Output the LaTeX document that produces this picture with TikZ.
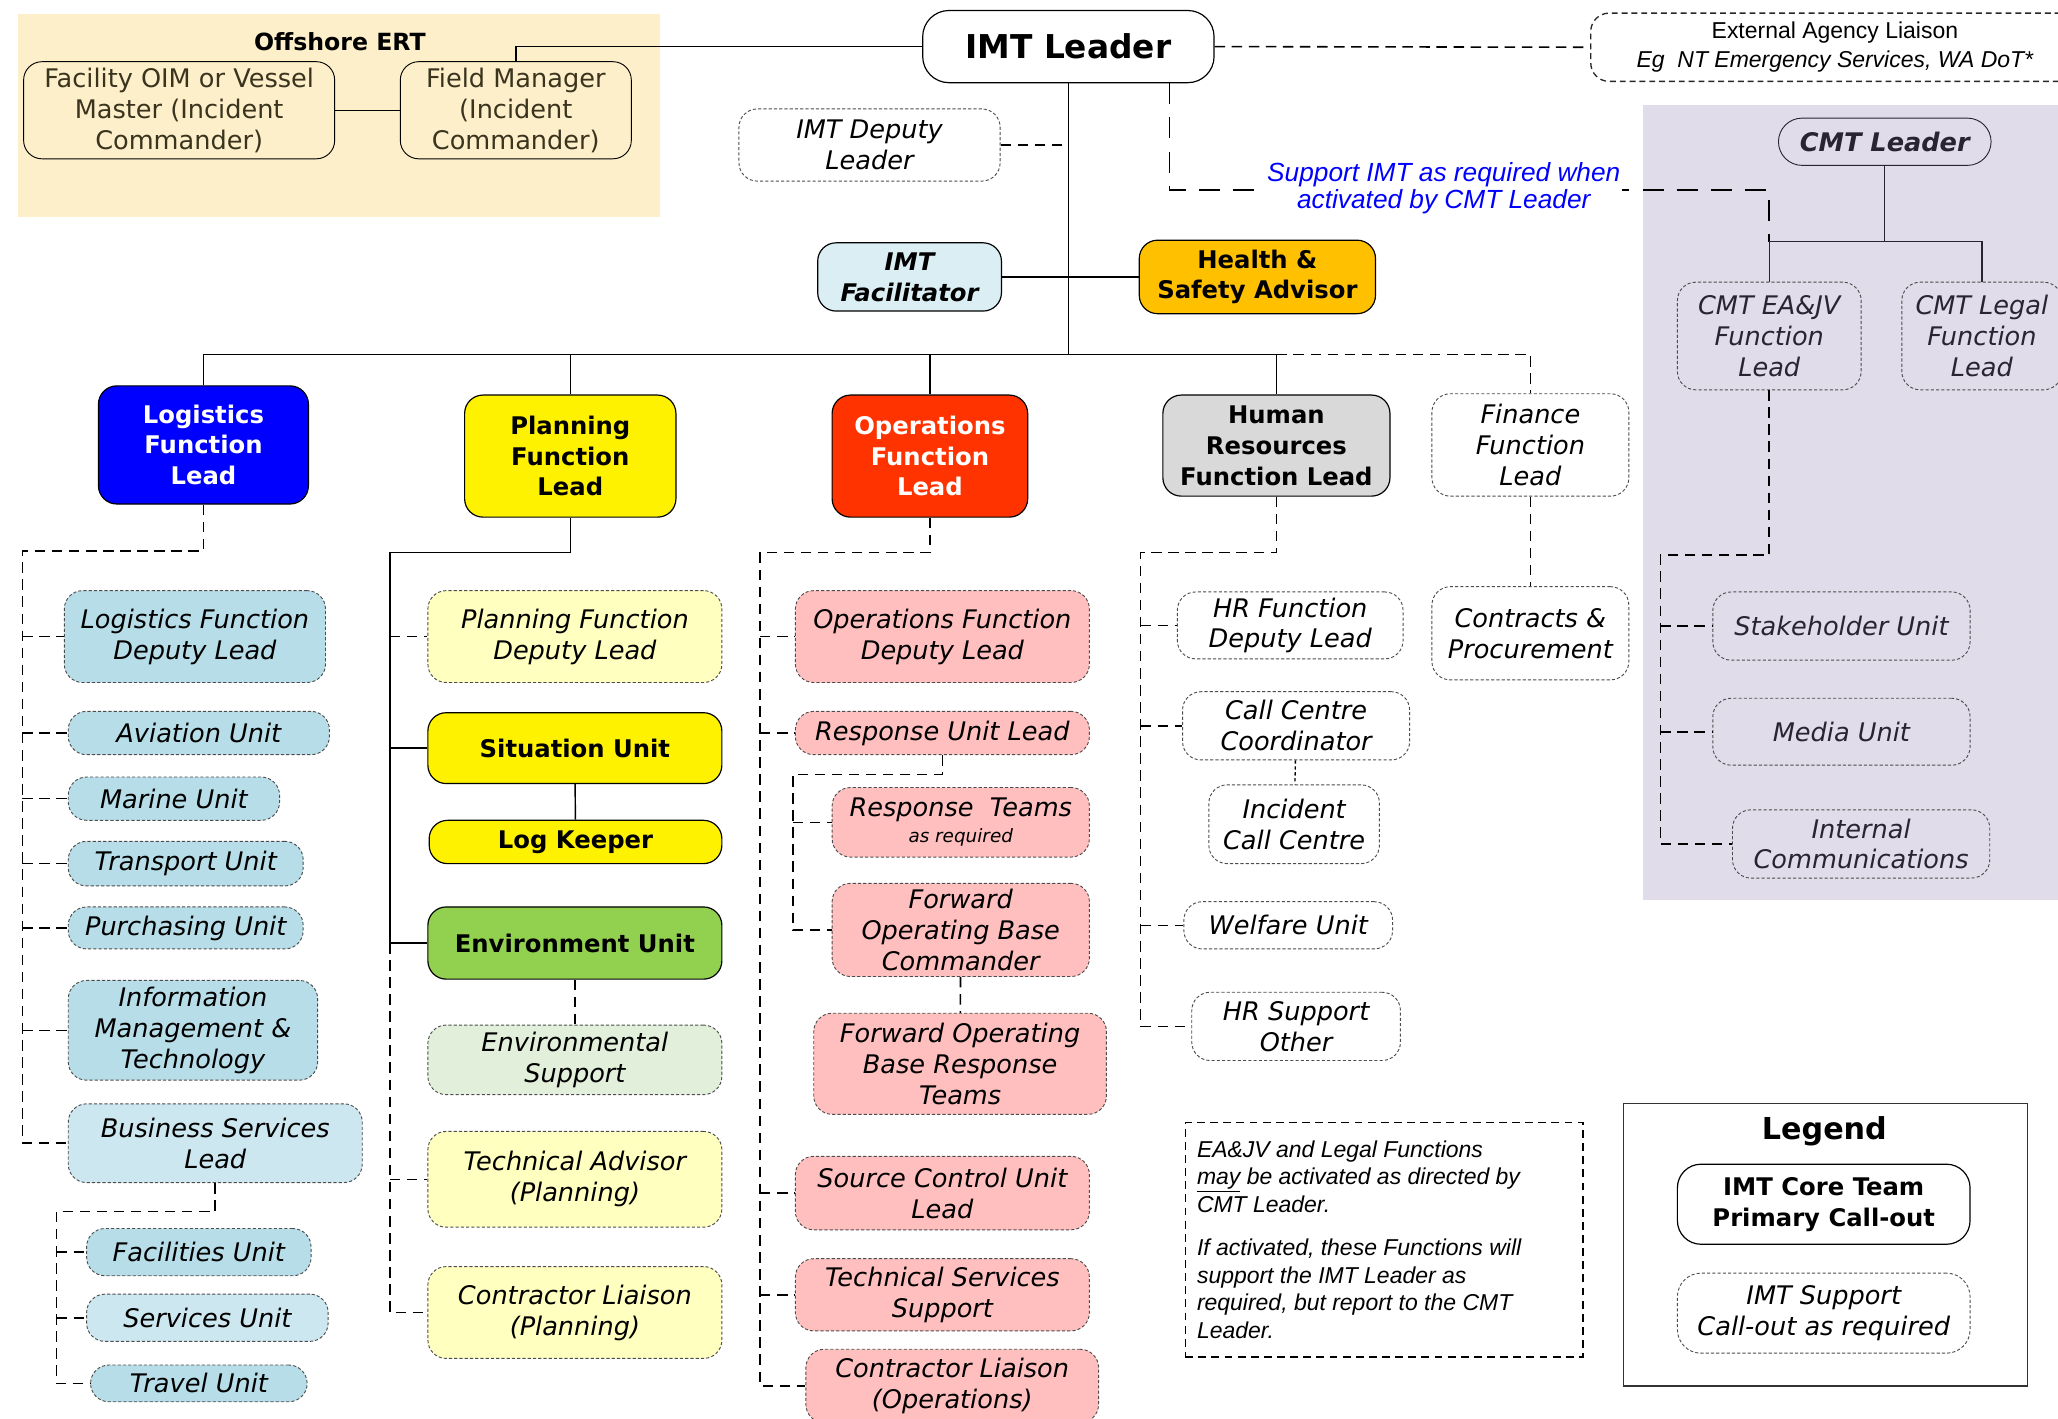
\documentclass[tikz,border=0pt]{standalone}
\usepackage{fontspec}
\setmainfont{DejaVu Sans}
\newfontfamily\arialfont{Liberation Sans}

\definecolor{ertbg}{RGB}{253,239,202}
\definecolor{ertink}{RGB}{58,52,30}
\definecolor{cmtbg}{RGB}{224,220,233}
\definecolor{cmtink}{RGB}{40,36,50}
\definecolor{facblue}{RGB}{218,238,243}
\definecolor{hsorange}{RGB}{255,192,0}
\definecolor{logblue}{RGB}{0,0,255}
\definecolor{opsred}{RGB}{255,51,0}
\definecolor{hrgray}{RGB}{217,217,217}
\definecolor{unitblue}{RGB}{183,222,232}
\definecolor{bizblue}{RGB}{204,231,239}
\definecolor{planpale}{RGB}{255,255,192}
\definecolor{envgreen}{RGB}{146,208,80}
\definecolor{envpale}{RGB}{226,239,218}
\definecolor{opspink}{RGB}{255,191,191}

\begin{document}
\begin{tikzpicture}[x=1pt, y=-1pt,
  core/.style = {draw, line width=0.9pt, rounded corners=14pt, align=center, inner sep=0pt,
    font=\fontsize{18.5}{23.5}\selectfont\bfseries},
  supp/.style = {draw=black!70, line width=0.7pt, dash pattern=on 2.4pt off 1.6pt, rounded corners=14pt,
    align=center, inner sep=0pt, font=\fontsize{19.5}{23.5}\selectfont\itshape},
  sz/.style 2 args = {minimum width=#1pt, minimum height=#2pt},
  conn/.style = {line width=1.1pt},
  dconn/.style = {line width=1.2pt, dash pattern=on 8pt off 5pt},
  dotconn/.style = {line width=1pt, dash pattern=on 2.5pt off 2pt},
  longconn/.style = {line width=1.4pt, dash pattern=on 16pt off 10pt}]
  \useasboundingbox (0,0) rectangle (1568,1081);
  \fill[ertbg] (14,11) rectangle (503,165);
  \fill[cmtbg] (1252,80) rectangle (1568,686);

  \node[font=\fontsize{18}{20}\selectfont\bfseries] (ert) at (259,32) {Offshore ERT};
  \node[core, line width=0.7pt, text=ertink, font=\fontsize{19.5}{23.5}\selectfont, sz={237}{74}] (oim) at (136.5,84) {Facility OIM or Vessel\\Master (Incident\\Commander)};
  \node[core, line width=0.7pt, text=ertink, font=\fontsize{19.5}{23.5}\selectfont, sz={176}{74}] (fm) at (393,84) {Field Manager\\(Incident\\Commander)};
  \node[core, rounded corners=20pt, font=\fontsize{25}{28}\selectfont\bfseries, sz={222}{55}] (imt) at (814,35.5) {IMT Leader};
  \node[supp, draw=black!85, line width=1pt, dash pattern=on 4.5pt off 3pt, sz={372}{52},
    font=\arialfont\fontsize{17.5}{22}\selectfont] (ext) at (1398,36) {External Agency Liaison\\\itshape Eg\ \ NT Emergency Services, WA DoT*};
  \node[supp, sz={199}{55}] (dep) at (662.5,110.5) {IMT Deputy\\Leader};
  \node[core, draw=cmtink, line width=0.7pt, rounded corners=18pt, text=cmtink, font=\fontsize{19.5}{23.5}\selectfont\bfseries\itshape, sz={162}{36}] (cmt) at (1436,108) {CMT Leader};
  \node[supp, text=cmtink, sz={140}{82}] (eajv) at (1348,256) {CMT EA\&JV\\Function\\Lead};
  \node[supp, text=cmtink, sz={122}{82}] (legal) at (1510,256) {CMT Legal\\Function\\Lead};
  \node[core, fill=facblue, font=\fontsize{18.5}{23.5}\selectfont\bfseries\itshape, sz={140}{52}] (facil) at (693,211) {IMT\\Facilitator};
  \node[core, fill=hsorange, sz={180}{56}] (hs) at (958,211) {Health \&\\Safety Advisor};

  \node[core, fill=logblue, text=white, sz={160}{90}] (logi) at (155,339) {Logistics\\Function\\Lead};
  \node[core, fill=yellow, sz={161}{93}] (plan) at (434.5,347.5) {Planning\\Function\\Lead};
  \node[core, fill=opsred, text=white, sz={149}{93}] (ops) at (708.5,347.5) {Operations\\Function\\Lead};
  \node[core, fill=hrgray, sz={173}{77}] (hr) at (972.5,339.5) {Human\\Resources\\Function Lead};
  \node[supp, sz={150}{78}] (fin) at (1166,339) {Finance\\Function\\Lead};
  \node[supp, sz={150}{71}] (cp) at (1166,482.5) {Contracts \&\\Procurement};

  \node[supp, fill=unitblue, sz={199}{70}] (lfdl) at (148.5,485) {Logistics Function\\Deputy Lead};
  \node[supp, fill=unitblue, sz={199}{33}] (avi) at (151.5,558.5) {Aviation Unit};
  \node[supp, fill=unitblue, sz={161}{33}] (mar) at (132.5,608.5) {Marine Unit};
  \node[supp, fill=unitblue, sz={179}{34}] (tra) at (141.5,658) {Transport Unit};
  \node[supp, fill=unitblue, sz={179}{32}] (pur) at (141.5,707) {Purchasing Unit};
  \node[supp, fill=unitblue, sz={190}{76}] (info) at (147,785) {Information\\Management \&\\Technology};
  \node[supp, fill=bizblue, sz={224}{60}] (bsl) at (164,871) {Business Services\\Lead};
  \node[supp, fill=unitblue, sz={171}{36}] (facu) at (151.5,954) {Facilities Unit};
  \node[supp, fill=bizblue, sz={184}{36}] (serv) at (158,1004) {Services Unit};
  \node[supp, fill=unitblue, sz={165}{28}] (trav) at (151.5,1054) {Travel Unit};

  \node[supp, fill=planpale, sz={224}{70}] (pfdl) at (438,485) {Planning Function\\Deputy Lead};
  \node[core, fill=yellow, sz={224}{54}] (sit) at (438,570) {Situation Unit};
  \node[core, fill=yellow, sz={223}{33}] (logk) at (438.5,641.5) {Log Keeper};
  \node[core, fill=envgreen, sz={224}{55}] (env) at (438,718.5) {Environment Unit};
  \node[supp, fill=envpale, sz={224}{53}] (envs) at (438,807.5) {Environmental\\Support};
  \node[supp, fill=planpale, sz={224}{73}] (tadv) at (438,898.5) {Technical Advisor\\(Planning)};
  \node[supp, fill=planpale, sz={224}{70}] (clp) at (438,1000) {Contractor Liaison\\(Planning)};

  \node[supp, fill=opspink, sz={224}{70}] (ofdl) at (718,485) {Operations Function\\Deputy Lead};
  \node[supp, fill=opspink, sz={224}{33}] (rul) at (718,558.5) {Response Unit Lead};
  \node[supp, fill=opspink, sz={196}{53}] (rt) at (732,626.5) {Response\ \ Teams\\[-4pt]{\fontsize{14}{16}\selectfont as required}};
  \node[supp, fill=opspink, sz={196}{71}] (fobc) at (732,708.5) {Forward\\Operating Base\\Commander};
  \node[supp, fill=opspink, sz={223}{77}] (fobr) at (731.5,810.5) {Forward Operating\\Base Response\\Teams};
  \node[supp, fill=opspink, sz={224}{56}] (scul) at (718,909) {Source Control Unit\\Lead};
  \node[supp, fill=opspink, sz={224}{55}] (tss) at (718,986.5) {Technical Services\\Support};
  \node[supp, fill=opspink, sz={223}{56}] (clo) at (725.5,1056) {Contractor Liaison\\(Operations)};

  \node[supp, sz={172}{51}] (hrfd) at (983,476.5) {HR Function\\Deputy Lead};
  \node[supp, sz={173}{52}] (ccc) at (987.5,553) {Call Centre\\Coordinator};
  \node[supp, sz={130}{60}] (icc) at (986,628) {Incident\\Call Centre};
  \node[supp, sz={159}{36}] (welf) at (981.5,705) {Welfare Unit};
  \node[supp, sz={159}{52}] (hrso) at (987.5,782) {HR Support\\Other};

  \node[supp, text=cmtink, sz={196}{52}] (stake) at (1403,477) {Stakeholder Unit};
  \node[supp, text=cmtink, sz={196}{51}] (media) at (1403,557.5) {Media Unit};
  \node[supp, text=cmtink, sz={196}{52}] (intc) at (1418,643) {Internal\\Communications};

  \node[draw, line width=1pt, dash pattern=on 6pt off 4pt, sz={303}{179}, text width=285pt, inner xsep=9pt,
    align=flush left, font=\arialfont\itshape\fontsize{17.5}{21}\selectfont] (note) at (1054.5,944.5)
    {EA\&JV and Legal Functions\\\underline{may} be activated as directed by\\CMT Leader.\\[12pt]If activated, these Functions will\\support the IMT Leader as\\required, but report to the CMT\\Leader.};

  \node[draw=black!80, line width=0.8pt, sz={308}{215}] (legend) at (1391,948.5) {};
  \node[font=\fontsize{23}{26}\selectfont\bfseries] (legtitle) at (1390,862) {Legend};
  \node[core, rounded corners=18pt, sz={223}{61}] (legcore) at (1389.5,917.5) {IMT Core Team\\Primary Call-out};
  \node[supp, rounded corners=18pt, sz={223}{61}] (legsupp) at (1389.5,1000.5) {IMT Support\\Call-out as required};

  \coordinate (bus) at (0,270);
  \coordinate (sup) at (0,145);
  \coordinate (cbus) at (0,184);
  \coordinate (lrail) at (17,420);
  \coordinate (brail) at (43,923);
  \coordinate (prail) at (297,421);
  \coordinate (orail) at (579,421);
  \coordinate (rrail) at (604,590);
  \coordinate (hrail) at (869,421);
  \coordinate (crail) at (1265,423);

  \draw[conn] (oim.east) -- (fm.west);
  \draw[conn] (fm.north) |- (imt.west);
  \draw[dconn] (imt.east) -- (ext.west);
  \draw[conn] (imt.south) -- (imt.south |- bus);
  \draw[dconn] (dep.east) -- (dep.east -| imt.south);
  \draw[conn] (facil.east) -- (hs.west);
  \draw[conn] (logi.north) |- (bus -| hr.north) -- (hr.north);
  \draw[conn] (plan.north) -- (plan.north |- bus);
  \draw[conn] (ops.north) -- (ops.north |- bus);
  \draw[dconn] (bus -| hr.north) -| (fin.north);
  \draw[dconn] (fin) -- (cp);

  \draw[longconn] ([xshift=77pt]imt.south) |- (sup -| eajv.north) -- (cbus -| eajv.north);
  \node[fill=white, inner sep=1pt, align=center, text=blue, font=\arialfont\itshape\fontsize{20}{21}\selectfont] (suplbl) at (1100,143.5) {Support IMT as required when\\activated by CMT Leader};
  \draw[conn, draw=cmtink] (cmt.south) -- (cmt.south |- cbus);
  \draw[conn, draw=cmtink] (eajv.north) |- (cbus -| legal.north) -- (legal.north);
  \draw[dconn] (eajv.south) |- (crail) |- (intc.west);
  \foreach \n in {stake,media} \draw[dconn] (crail |- \n.west) -- (\n.west);

  \draw[dconn] (logi.south) |- (lrail) |- (bsl.west);
  \foreach \n in {lfdl,avi,mar,tra,pur,info} \draw[dconn] (lrail |- \n.west) -- (\n.west);
  \draw[dconn] (bsl.south) |- (brail) |- (trav.west);
  \foreach \n in {facu,serv} \draw[dconn] (brail |- \n.west) -- (\n.west);

  \draw[conn] (plan.south) |- (prail) |- (env.west);
  \draw[conn] (prail |- sit.west) -- (sit.west);
  \draw[dconn] (prail |- env.west) |- (clp.west);
  \foreach \n in {pfdl,tadv} \draw[dconn] (prail |- \n.west) -- (\n.west);
  \draw[conn] (sit) -- (logk);
  \draw[dconn] (env) -- (envs);

  \draw[dconn] (ops.south) |- (orail) |- (clo.west);
  \foreach \n in {ofdl,rul,scul,tss} \draw[dconn] (orail |- \n.west) -- (\n.west);
  \draw[dconn] (rul.south) |- (rrail) |- (fobc.west);
  \draw[dconn] (rrail |- rt.west) -- (rt.west);
  \draw[dconn] (fobc) -- (fobr);

  \draw[dconn] (hr.south) |- (hrail) |- (hrso.west);
  \foreach \n in {hrfd,ccc,welf} \draw[dconn] (hrail |- \n.west) -- (\n.west);
  \draw[dotconn] (ccc) -- (icc);
\end{tikzpicture}
\end{document}
